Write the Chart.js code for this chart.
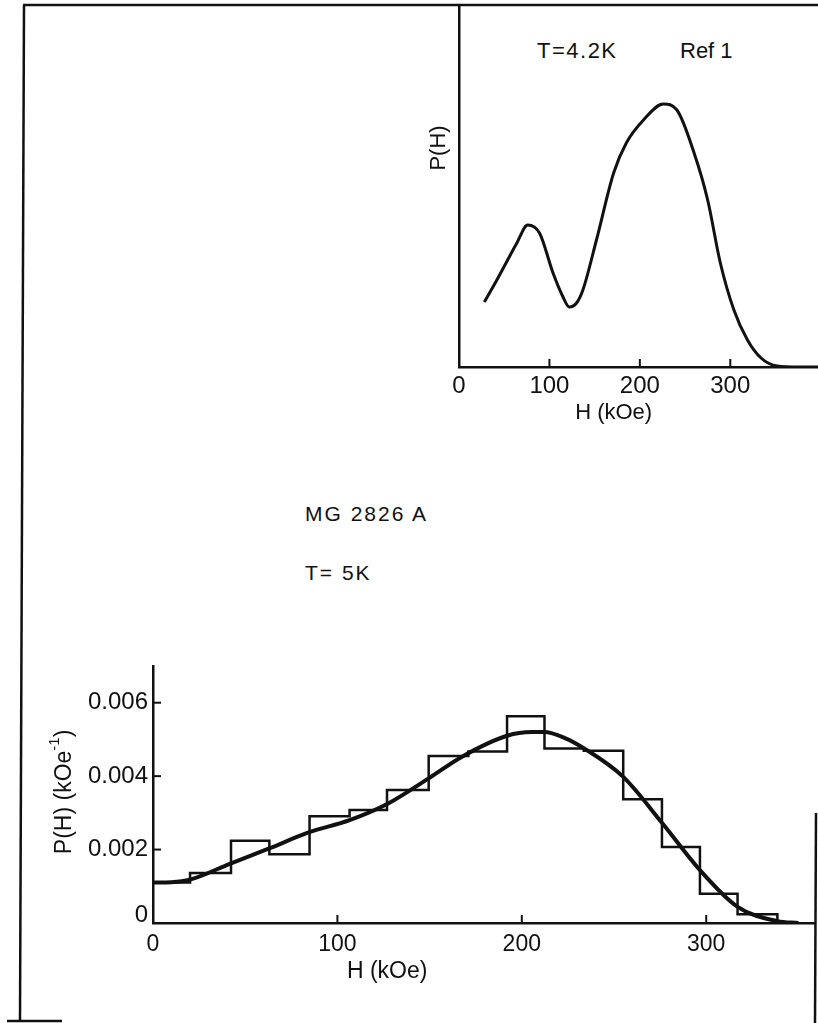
<!DOCTYPE html>
<html><head><meta charset="utf-8">
<script src="https://cdn.jsdelivr.net/npm/chart.js@4"></script>
<style>
body{margin:0;background:#fff;width:818px;height:1023px;position:relative;overflow:hidden;font-family:"Liberation Sans",Arial,sans-serif;}
canvas{position:absolute;}
.t{position:absolute;color:#111;white-space:nowrap;line-height:1;}
svg{position:absolute;left:0;top:0;}
</style></head><body>
<svg width="818" height="1023">
  <g stroke="#111" stroke-width="2.5" fill="none">
    <line x1="23" y1="5" x2="818" y2="5"/>
    <line x1="24" y1="5" x2="20" y2="1021"/>
    <line x1="7" y1="1021" x2="62" y2="1021"/>
    <line x1="816" y1="813" x2="815" y2="1023"/>
  </g>
</svg>
<div class="t" style="left:537px;top:40px;font-size:22px;letter-spacing:1.5px">T=4.2K</div>
<div class="t" style="left:680px;top:40px;font-size:22px;">Ref 1</div>
<div class="t" style="left:305px;top:503px;font-size:21px;letter-spacing:2px">MG 2826 A</div>
<div class="t" style="left:305px;top:562px;font-size:21px;letter-spacing:2px">T= 5K</div>
<canvas id="c1" width="418" height="440" style="left:400px;top:0px;width:418px;height:440px"></canvas>
<canvas id="c2" width="818" height="383" style="left:0px;top:640px;width:818px;height:383px"></canvas>
<script>
// ---- Inset (T=4.2K, Ref 1): P(H) in arbitrary units ----
const insetH = [28, 40, 52, 64, 76, 89, 104, 114, 122, 130, 137, 152, 171, 185, 204, 226, 241, 260, 275, 289, 304, 319, 334, 352, 375, 397];
const insetP = [65, 84, 104, 124, 142, 134, 94, 72, 60, 64, 77, 127, 194, 224, 247, 263, 257, 214, 167, 104, 57, 27, 9, 1, 0, 0];
const insetTicksX = [0, 100, 200, 300];

// ---- Main chart (MG 2826A, T=5K) ----
const binEdges = [0, 20.1, 42.3, 63.1, 84.9, 106.6, 126.9, 149.5, 171, 192, 212.3, 233.6, 255, 276, 296.6, 317, 338.6];
const binHeights = [0.0011, 0.00136, 0.00224, 0.00187, 0.00291, 0.00308, 0.00362, 0.00455, 0.00467, 0.00563, 0.00475, 0.00469, 0.00337, 0.00207, 0.0008, 0.00024];
const fitH = [0, 10, 20, 42, 63, 84, 106.6, 127, 149.5, 167.6, 192, 205.5, 212, 223.7, 233.6, 255, 276, 296.6, 317, 338.6, 350];
const fitP = [0.0011, 0.00111, 0.00118, 0.00162, 0.00203, 0.00246, 0.0028, 0.00324, 0.00394, 0.00453, 0.0051, 0.0052, 0.0052, 0.00503, 0.00476, 0.00398, 0.00273, 0.00144, 0.00044, 0.00005, 0];
const mainTicksX = [0, 100, 200, 300];
const mainTicksY = [0, 0.002, 0.004, 0.006];

Chart.defaults.font.family = '"Liberation Sans", Arial, sans-serif';
Chart.defaults.color = '#111';
const INK = '#111';

function tickMarks(scaleX, scaleY, valsX, valsY, len, ctx) {
  ctx.save();
  ctx.strokeStyle = INK; ctx.lineWidth = 2;
  const ca = scaleX.chart.chartArea;
  valsX.forEach(v => { if (v === 0) return; const x = scaleX.getPixelForValue(v); ctx.beginPath(); ctx.moveTo(x, ca.bottom); ctx.lineTo(x, ca.bottom - len); ctx.stroke(); });
  valsY.forEach(v => { if (v === 0) return; const y = scaleY.getPixelForValue(v); ctx.beginPath(); ctx.moveTo(ca.left, y); ctx.lineTo(ca.left + len, y); ctx.stroke(); });
  ctx.restore();
}

// Inset chart
new Chart(document.getElementById('c1'), {
  type: 'line',
  data: { datasets: [{
    data: insetH.map((h, i) => ({x: h, y: insetP[i]})),
    borderColor: INK, borderWidth: 3, pointRadius: 0, fill: false,
    cubicInterpolationMode: 'monotone'
  }]},
  options: {
    responsive: false, animation: false, events: [],
    layout: { padding: { top: 5, right: 0, left: 0, bottom: 0 } },
    plugins: { legend: { display: false }, tooltip: { enabled: false } },
    scales: {
      x: { type: 'linear', min: 0, max: 397,
        afterBuildTicks: s => { s.ticks = insetTicksX.map(v => ({value: v})); },
        afterFit: s => { s.height = 73; },
        grid: { display: false, drawTicks: false },
        border: { display: true, color: INK, width: 2.5 },
        ticks: { font: { size: 24 }, padding: 5, maxRotation: 0, callback: v => String(v) } },
      y: { type: 'linear', min: 0, max: 362,
        afterFit: s => { s.width = 59; },
        grid: { display: false, drawTicks: false },
        border: { display: true, color: INK, width: 2.5 },
        ticks: { display: false } }
    }
  },
  plugins: [{
    id: 'insetDeco',
    afterDraw(chart) {
      const {ctx, scales: {x, y}, chartArea} = chart;
      tickMarks(x, y, insetTicksX, [], 8, ctx);
      ctx.save();
      ctx.fillStyle = INK; ctx.font = '22px "Liberation Sans", Arial, sans-serif';
      ctx.textAlign = 'center'; ctx.textBaseline = 'middle';
      ctx.fillText('H (kOe)', x.getPixelForValue(171), chartArea.bottom + 46);
      ctx.translate(chartArea.left - 20, y.getPixelForValue(219));
      ctx.rotate(-Math.PI / 2);
      ctx.fillText('P(H)', 0, 0);
      ctx.restore();
    }
  }]
});

// Main chart
const histPts = binEdges.slice(0, binHeights.length).map((e, i) => ({x: e, y: binHeights[i]}));
histPts.push({x: binEdges[binEdges.length - 1], y: 0});

new Chart(document.getElementById('c2'), {
  type: 'line',
  data: { datasets: [
    { data: histPts, borderColor: INK, borderWidth: 2.5, pointRadius: 0, fill: false, stepped: true },
    { data: fitH.map((h, i) => ({x: h, y: fitP[i]})), borderColor: INK, borderWidth: 4, pointRadius: 0, fill: false, cubicInterpolationMode: 'monotone' }
  ]},
  options: {
    responsive: false, animation: false, events: [],
    layout: { padding: { top: 26, right: 3, left: 0, bottom: 0 } },
    plugins: { legend: { display: false }, tooltip: { enabled: false } },
    scales: {
      x: { type: 'linear', min: 0, max: 359,
        afterBuildTicks: s => { s.ticks = mainTicksX.map(v => ({value: v})); },
        afterFit: s => { s.height = 100; },
        grid: { display: false, drawTicks: false },
        border: { display: true, color: INK, width: 2.5 },
        ticks: { font: { size: 23 }, padding: 8, maxRotation: 0, callback: v => String(v) } },
      y: { type: 'linear', min: 0, max: 0.007,
        afterBuildTicks: s => { s.ticks = mainTicksY.map(v => ({value: v})); },
        afterFit: s => { s.width = 153; },
        grid: { display: false, drawTicks: false },
        border: { display: true, color: INK, width: 2.5 },
        ticks: { font: { size: 24 }, padding: 5, callback: v => v === 0 ? '' : v.toFixed(3) } }
    }
  },
  plugins: [{
    id: 'mainDeco',
    afterDraw(chart) {
      const {ctx, scales: {x, y}, chartArea} = chart;
      tickMarks(x, y, mainTicksX, mainTicksY, 8, ctx);
      ctx.save();
      ctx.fillStyle = INK;
      ctx.font = '24px "Liberation Sans", Arial, sans-serif';
      ctx.textAlign = 'right'; ctx.textBaseline = 'middle';
      ctx.fillText('0', chartArea.left - 5, y.getPixelForValue(0) - 8);
      ctx.font = '23px "Liberation Sans", Arial, sans-serif';
      ctx.textAlign = 'center';
      ctx.fillText('H (kOe)', x.getPixelForValue(127), chartArea.bottom + 49);
      // rotated y title with superscript
      ctx.translate(65, y.getPixelForValue(0.00357));
      ctx.rotate(-Math.PI / 2);
      const main = 'P(H) (kOe', sup = '-1', end = ')';
      ctx.font = '23px "Liberation Sans", Arial, sans-serif';
      const w1 = ctx.measureText(main).width, w3 = ctx.measureText(end).width;
      ctx.font = '15px "Liberation Sans", Arial, sans-serif';
      const w2 = ctx.measureText(sup).width;
      let sx = -(w1 + w2 + w3) / 2;
      ctx.textAlign = 'left';
      ctx.font = '23px "Liberation Sans", Arial, sans-serif';
      ctx.fillText(main, sx, 0);
      ctx.font = '15px "Liberation Sans", Arial, sans-serif';
      ctx.fillText(sup, sx + w1, -10);
      ctx.font = '23px "Liberation Sans", Arial, sans-serif';
      ctx.fillText(end, sx + w1 + w2, 0);
      ctx.restore();
    }
  }]
});
</script>
</body></html>
